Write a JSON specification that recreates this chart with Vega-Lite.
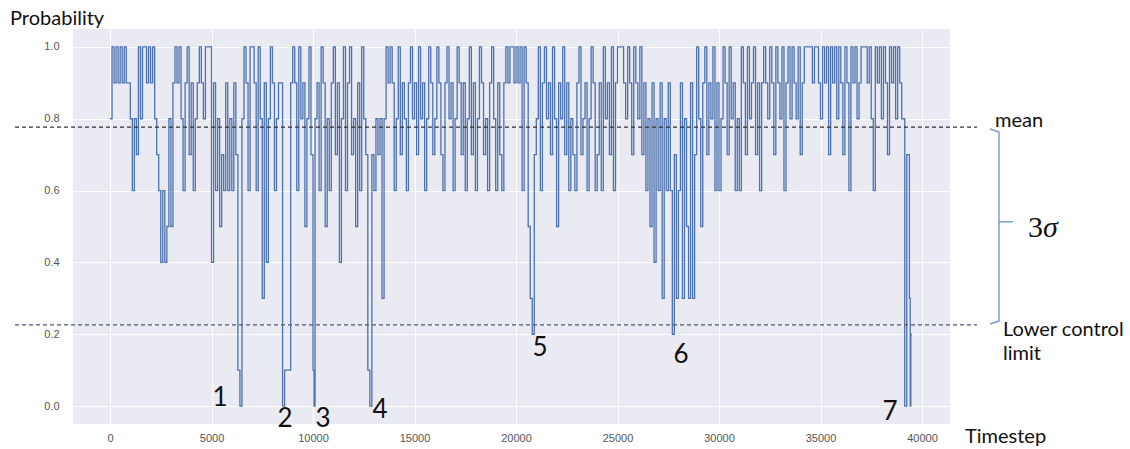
{
"$schema": "https://vega.github.io/schema/vega-lite/v6.json",
"width": 877,
"height": 395,
"autosize": {"type": "none"},
"padding": {"left": 73, "top": 29, "right": 180, "bottom": 25},
"background": "white",
"config": {"view": {"fill": "#eaeaf2", "stroke": null}},
"datasets": {
"s": [
{"t":0,"p":0.8},{"t":100,"p":1.0},{"t":200,"p":0.9},{"t":300,"p":1.0},{"t":400,"p":0.9},{"t":500,"p":1.0},{"t":600,"p":0.9},{"t":700,"p":1.0},{"t":800,"p":0.9},{"t":900,"p":0.9},
{"t":1000,"p":0.8},{"t":1100,"p":0.6},{"t":1200,"p":0.8},{"t":1300,"p":0.7},{"t":1400,"p":1.0},{"t":1500,"p":0.8},{"t":1600,"p":1.0},{"t":1700,"p":1.0},{"t":1800,"p":0.9},{"t":1900,"p":1.0},
{"t":2000,"p":0.9},{"t":2100,"p":1.0},{"t":2200,"p":0.8},{"t":2300,"p":0.7},{"t":2400,"p":0.6},{"t":2500,"p":0.4},{"t":2600,"p":0.6},{"t":2700,"p":0.4},{"t":2800,"p":0.5},{"t":2900,"p":0.8},
{"t":3000,"p":0.5},{"t":3100,"p":0.9},{"t":3200,"p":1.0},{"t":3300,"p":0.9},{"t":3400,"p":1.0},{"t":3500,"p":0.8},{"t":3600,"p":0.6},{"t":3700,"p":0.9},{"t":3800,"p":1.0},{"t":3900,"p":0.7},
{"t":4000,"p":0.9},{"t":4100,"p":0.6},{"t":4200,"p":0.8},{"t":4300,"p":0.9},{"t":4400,"p":1.0},{"t":4500,"p":0.9},{"t":4600,"p":0.8},{"t":4700,"p":1.0},{"t":4800,"p":1.0},{"t":4900,"p":1.0},
{"t":5000,"p":0.4},{"t":5100,"p":0.9},{"t":5200,"p":0.6},{"t":5300,"p":0.8},{"t":5400,"p":0.5},{"t":5500,"p":0.7},{"t":5600,"p":0.6},{"t":5700,"p":0.9},{"t":5800,"p":0.6},{"t":5900,"p":0.8},
{"t":6000,"p":0.6},{"t":6100,"p":0.9},{"t":6200,"p":0.7},{"t":6300,"p":0.1},{"t":6400,"p":0.0},{"t":6500,"p":0.8},{"t":6600,"p":1.0},{"t":6700,"p":0.9},{"t":6800,"p":0.6},{"t":6900,"p":1.0},
{"t":7000,"p":1.0},{"t":7100,"p":0.9},{"t":7200,"p":0.6},{"t":7300,"p":1.0},{"t":7400,"p":0.8},{"t":7500,"p":0.3},{"t":7600,"p":0.9},{"t":7700,"p":0.4},{"t":7800,"p":0.8},{"t":7900,"p":1.0},
{"t":8000,"p":0.9},{"t":8100,"p":0.6},{"t":8200,"p":0.8},{"t":8300,"p":0.9},{"t":8400,"p":0.9},{"t":8500,"p":0.0},{"t":8600,"p":0.1},{"t":8700,"p":0.1},{"t":8800,"p":0.1},{"t":8900,"p":0.9},
{"t":9000,"p":1.0},{"t":9100,"p":0.9},{"t":9200,"p":0.6},{"t":9300,"p":1.0},{"t":9400,"p":0.8},{"t":9500,"p":0.9},{"t":9600,"p":0.5},{"t":9700,"p":0.8},{"t":9800,"p":1.0},{"t":9900,"p":0.7},
{"t":10000,"p":0.1},{"t":10050,"p":0.0},{"t":10100,"p":0.8},{"t":10200,"p":0.9},{"t":10300,"p":0.6},{"t":10400,"p":1.0},{"t":10500,"p":0.9},{"t":10600,"p":0.5},{"t":10700,"p":0.8},{"t":10800,"p":0.6},{"t":10900,"p":0.9},
{"t":11000,"p":1.0},{"t":11100,"p":0.7},{"t":11200,"p":0.9},{"t":11300,"p":0.4},{"t":11400,"p":0.8},{"t":11500,"p":1.0},{"t":11600,"p":0.6},{"t":11700,"p":0.9},{"t":11800,"p":1.0},{"t":11900,"p":0.7},
{"t":12000,"p":0.8},{"t":12100,"p":0.5},{"t":12200,"p":0.9},{"t":12300,"p":0.6},{"t":12400,"p":1.0},{"t":12500,"p":0.8},{"t":12600,"p":0.7},{"t":12700,"p":0.1},{"t":12800,"p":0.0},{"t":12900,"p":0.7},
{"t":13000,"p":0.6},{"t":13100,"p":0.8},{"t":13200,"p":0.7},{"t":13300,"p":0.8},{"t":13400,"p":0.3},{"t":13500,"p":0.8},{"t":13600,"p":1.0},{"t":13700,"p":0.9},{"t":13800,"p":1.0},{"t":13900,"p":0.9},
{"t":14000,"p":0.6},{"t":14100,"p":0.8},{"t":14200,"p":1.0},{"t":14300,"p":0.7},{"t":14400,"p":0.9},{"t":14500,"p":0.8},{"t":14600,"p":0.6},{"t":14700,"p":0.9},{"t":14800,"p":1.0},{"t":14900,"p":0.8},
{"t":15000,"p":0.9},{"t":15100,"p":0.7},{"t":15200,"p":1.0},{"t":15300,"p":0.8},{"t":15400,"p":0.9},{"t":15500,"p":0.6},{"t":15600,"p":0.8},{"t":15700,"p":1.0},{"t":15800,"p":0.9},{"t":15900,"p":0.7},
{"t":16000,"p":0.8},{"t":16100,"p":1.0},{"t":16200,"p":0.9},{"t":16300,"p":0.7},{"t":16400,"p":0.6},{"t":16500,"p":0.9},{"t":16600,"p":1.0},{"t":16700,"p":0.8},{"t":16800,"p":0.9},{"t":16900,"p":0.6},
{"t":17000,"p":0.8},{"t":17100,"p":1.0},{"t":17200,"p":0.9},{"t":17300,"p":0.7},{"t":17400,"p":0.9},{"t":17500,"p":0.6},{"t":17600,"p":0.8},{"t":17700,"p":1.0},{"t":17800,"p":0.7},{"t":17900,"p":0.9},
{"t":18000,"p":0.6},{"t":18100,"p":0.8},{"t":18200,"p":1.0},{"t":18300,"p":0.9},{"t":18400,"p":0.7},{"t":18500,"p":0.8},{"t":18600,"p":0.6},{"t":18700,"p":0.9},{"t":18800,"p":1.0},{"t":18900,"p":0.8},
{"t":19000,"p":0.6},{"t":19100,"p":0.9},{"t":19200,"p":0.7},{"t":19300,"p":0.6},{"t":19400,"p":0.9},{"t":19500,"p":1.0},{"t":19600,"p":0.9},{"t":19700,"p":1.0},{"t":19800,"p":1.0},{"t":19900,"p":0.9},
{"t":20000,"p":1.0},{"t":20100,"p":0.9},{"t":20200,"p":1.0},{"t":20300,"p":0.6},{"t":20400,"p":1.0},{"t":20500,"p":0.9},{"t":20600,"p":0.5},{"t":20700,"p":0.3},{"t":20800,"p":0.2},{"t":20900,"p":0.7},
{"t":21000,"p":0.8},{"t":21100,"p":1.0},{"t":21200,"p":0.6},{"t":21300,"p":0.9},{"t":21400,"p":1.0},{"t":21500,"p":0.8},{"t":21600,"p":0.9},{"t":21700,"p":0.7},{"t":21800,"p":1.0},{"t":21900,"p":0.8},
{"t":22000,"p":0.5},{"t":22100,"p":0.9},{"t":22200,"p":0.8},{"t":22300,"p":1.0},{"t":22400,"p":0.7},{"t":22500,"p":0.9},{"t":22600,"p":0.6},{"t":22700,"p":0.8},{"t":22800,"p":0.7},{"t":22900,"p":0.6},
{"t":23000,"p":0.9},{"t":23100,"p":1.0},{"t":23200,"p":0.7},{"t":23300,"p":0.8},{"t":23400,"p":0.9},{"t":23500,"p":0.6},{"t":23600,"p":0.8},{"t":23700,"p":1.0},{"t":23800,"p":0.9},{"t":23900,"p":0.6},
{"t":24000,"p":0.7},{"t":24100,"p":0.9},{"t":24200,"p":0.6},{"t":24300,"p":1.0},{"t":24400,"p":0.8},{"t":24500,"p":0.9},{"t":24600,"p":0.7},{"t":24700,"p":1.0},{"t":24800,"p":0.6},{"t":24900,"p":0.9},
{"t":25000,"p":1.0},{"t":25100,"p":1.0},{"t":25200,"p":1.0},{"t":25300,"p":0.9},{"t":25400,"p":0.8},{"t":25500,"p":1.0},{"t":25600,"p":0.9},{"t":25700,"p":0.7},{"t":25800,"p":1.0},{"t":25900,"p":0.9},
{"t":26000,"p":0.8},{"t":26100,"p":1.0},{"t":26200,"p":0.7},{"t":26300,"p":0.9},{"t":26400,"p":0.6},{"t":26500,"p":0.8},{"t":26600,"p":0.5},{"t":26700,"p":0.9},{"t":26800,"p":0.4},{"t":26900,"p":0.8},
{"t":27000,"p":0.6},{"t":27100,"p":0.9},{"t":27200,"p":0.3},{"t":27300,"p":0.8},{"t":27400,"p":0.6},{"t":27500,"p":0.9},{"t":27600,"p":0.6},{"t":27700,"p":0.2},{"t":27800,"p":0.7},{"t":27900,"p":0.3},
{"t":28000,"p":0.6},{"t":28100,"p":0.9},{"t":28200,"p":0.3},{"t":28300,"p":0.8},{"t":28400,"p":0.5},{"t":28500,"p":0.3},{"t":28600,"p":0.9},{"t":28700,"p":0.3},{"t":28800,"p":0.7},{"t":28900,"p":1.0},
{"t":29000,"p":0.8},{"t":29100,"p":0.5},{"t":29200,"p":0.9},{"t":29300,"p":1.0},{"t":29400,"p":0.7},{"t":29500,"p":0.9},{"t":29600,"p":0.8},{"t":29700,"p":1.0},{"t":29800,"p":0.6},{"t":29900,"p":0.9},
{"t":30000,"p":0.6},{"t":30100,"p":0.8},{"t":30200,"p":1.0},{"t":30300,"p":0.9},{"t":30400,"p":0.7},{"t":30500,"p":1.0},{"t":30600,"p":0.8},{"t":30700,"p":0.9},{"t":30800,"p":0.6},{"t":30900,"p":0.8},
{"t":31000,"p":0.6},{"t":31100,"p":1.0},{"t":31200,"p":0.9},{"t":31300,"p":0.7},{"t":31400,"p":1.0},{"t":31500,"p":0.8},{"t":31600,"p":0.9},{"t":31700,"p":1.0},{"t":31800,"p":0.7},{"t":31900,"p":0.9},
{"t":32000,"p":0.6},{"t":32100,"p":0.9},{"t":32200,"p":1.0},{"t":32300,"p":0.9},{"t":32400,"p":0.8},{"t":32500,"p":1.0},{"t":32600,"p":0.9},{"t":32700,"p":0.7},{"t":32800,"p":1.0},{"t":32900,"p":0.9},
{"t":33000,"p":0.8},{"t":33100,"p":1.0},{"t":33200,"p":0.6},{"t":33300,"p":0.9},{"t":33400,"p":1.0},{"t":33500,"p":0.8},{"t":33600,"p":1.0},{"t":33700,"p":0.9},{"t":33800,"p":0.8},{"t":33900,"p":1.0},
{"t":34000,"p":0.7},{"t":34100,"p":0.9},{"t":34200,"p":1.0},{"t":34300,"p":1.0},{"t":34400,"p":1.0},{"t":34500,"p":1.0},{"t":34600,"p":0.9},{"t":34700,"p":1.0},{"t":34800,"p":1.0},{"t":34900,"p":0.9},
{"t":35000,"p":0.8},{"t":35100,"p":1.0},{"t":35200,"p":0.9},{"t":35300,"p":1.0},{"t":35400,"p":0.7},{"t":35500,"p":1.0},{"t":35600,"p":0.9},{"t":35700,"p":1.0},{"t":35800,"p":0.8},{"t":35900,"p":1.0},
{"t":36000,"p":0.9},{"t":36100,"p":0.7},{"t":36200,"p":1.0},{"t":36300,"p":0.9},{"t":36400,"p":0.6},{"t":36500,"p":1.0},{"t":36600,"p":0.9},{"t":36700,"p":1.0},{"t":36800,"p":0.8},{"t":36900,"p":0.9},
{"t":37000,"p":1.0},{"t":37100,"p":1.0},{"t":37200,"p":1.0},{"t":37300,"p":0.9},{"t":37400,"p":1.0},{"t":37500,"p":0.8},{"t":37600,"p":0.6},{"t":37700,"p":1.0},{"t":37800,"p":0.9},{"t":37900,"p":1.0},
{"t":38000,"p":0.8},{"t":38100,"p":1.0},{"t":38200,"p":0.9},{"t":38300,"p":0.7},{"t":38400,"p":1.0},{"t":38500,"p":0.9},{"t":38600,"p":1.0},{"t":38700,"p":0.8},{"t":38800,"p":1.0},{"t":38900,"p":0.9},
{"t":39000,"p":0.8},{"t":39150,"p":0.0},{"t":39250,"p":0.7},{"t":39380,"p":0.3},{"t":39420,"p":0.0},{"t":39450,"p":0.2},{"t":39500,"p":0.2}
]
},
"layer": [
{
"data": {"name": "s"},
"mark": {"type": "line", "interpolate": "step-after", "color": "#4c72b0", "strokeWidth": 1.3},
"encoding": {
"x": {"field": "t", "type": "quantitative", "scale": {"domain": [-1823, 41379], "nice": false, "zero": false},
"axis": {"values": [0,5000,10000,15000,20000,25000,30000,35000,40000], "format": "d", "title": null, "grid": true, "gridColor": "#ffffff", "gridWidth": 1, "domain": false, "ticks": false, "labelColor": "#555555", "labelFont": "Liberation Sans", "labelFontSize": 11, "labelPadding": 8}},
"y": {"field": "p", "type": "quantitative", "scale": {"domain": [-0.05, 1.05], "nice": false, "zero": false},
"axis": {"values": [0,0.2,0.4,0.6,0.8,1.0], "format": ".1f", "title": null, "grid": true, "gridColor": "#ffffff", "gridWidth": 1, "domain": false, "ticks": false, "labelColor": "#555555", "labelFont": "Liberation Sans", "labelFontSize": 11, "labelPadding": 14}}
}
},
{
"data": {"values": [
{"t": -4680, "t2": 42709, "p": 0.777, "c": "mean"},
{"t": -4680, "t2": 42709, "p": 0.226, "c": "lcl"}
]},
"mark": {"type": "rule", "strokeDash": [4, 3], "strokeWidth": 1.3},
"encoding": {
"x": {"field": "t", "type": "quantitative"},
"x2": {"field": "t2"},
"y": {"field": "p", "type": "quantitative"},
"color": {"field": "c", "type": "nominal", "scale": {"domain": ["mean", "lcl"], "range": ["#333333", "#4a5878"]}, "legend": null}
}
},
{
"data": {"values": [
{"t": 43350, "p": 0.772, "o": 1},
{"t": 43793, "p": 0.763, "o": 2},
{"t": 43793, "p": 0.237, "o": 3},
{"t": 43350, "p": 0.228, "o": 4}
]},
"mark": {"type": "line", "color": "#6a8fcf", "strokeWidth": 1.3},
"encoding": {
"x": {"field": "t", "type": "quantitative"},
"y": {"field": "p", "type": "quantitative"},
"order": {"field": "o", "type": "quantitative"}
}
},
{
"data": {"values": [{"t": 43793, "t2": 44483, "p": 0.513}]},
"mark": {"type": "rule", "color": "#6a8fcf", "strokeWidth": 1.3},
"encoding": {
"x": {"field": "t", "type": "quantitative"},
"x2": {"field": "t2"},
"y": {"field": "p", "type": "quantitative"}
}
},
{
"data": {"values": [
{"t": 5419, "p": 0.022, "label": "1"},
{"t": 8621, "p": -0.037, "label": "2"},
{"t": 10493, "p": -0.037, "label": "3"},
{"t": 13300, "p": -0.011, "label": "4"},
{"t": 21182, "p": 0.162, "label": "5"},
{"t": 28128, "p": 0.142, "label": "6"},
{"t": 38424, "p": -0.017, "label": "7"}
]},
"mark": {"type": "text", "align": "center", "baseline": "middle", "font": "Lato", "fontSize": 26, "color": "#111111"},
"encoding": {
"x": {"field": "t", "type": "quantitative"},
"y": {"field": "p", "type": "quantitative"},
"text": {"field": "label"}
}
},
{
"data": {"values": [
{"t": 43596, "p": 0.794, "label": "mean"},
{"t": 43990, "p": 0.212, "label": "Lower control"},
{"t": 43990, "p": 0.145, "label": "limit"},
{"t": 42118, "p": -0.086, "label": "Timestep"},
{"t": -4926, "p": 1.078, "label": "Probability"}
]},
"mark": {"type": "text", "align": "left", "baseline": "middle", "font": "Lato", "fontSize": 20, "color": "#111111"},
"encoding": {
"x": {"field": "t", "type": "quantitative"},
"y": {"field": "p", "type": "quantitative"},
"text": {"field": "label"}
}
},
{
"data": {"values": [{"t": 45222, "p": 0.496, "label": "3"}]},
"mark": {"type": "text", "align": "left", "baseline": "middle", "font": "Liberation Serif", "fontSize": 30, "color": "#111111"},
"encoding": {
"x": {"field": "t", "type": "quantitative"},
"y": {"field": "p", "type": "quantitative"},
"text": {"field": "label"}
}
},
{
"data": {"values": [{"t": 45960, "p": 0.496, "label": "σ"}]},
"mark": {"type": "text", "align": "left", "baseline": "middle", "font": "Liberation Serif", "fontStyle": "italic", "fontSize": 30, "color": "#111111"},
"encoding": {
"x": {"field": "t", "type": "quantitative"},
"y": {"field": "p", "type": "quantitative"},
"text": {"field": "label"}
}
}
]
}
